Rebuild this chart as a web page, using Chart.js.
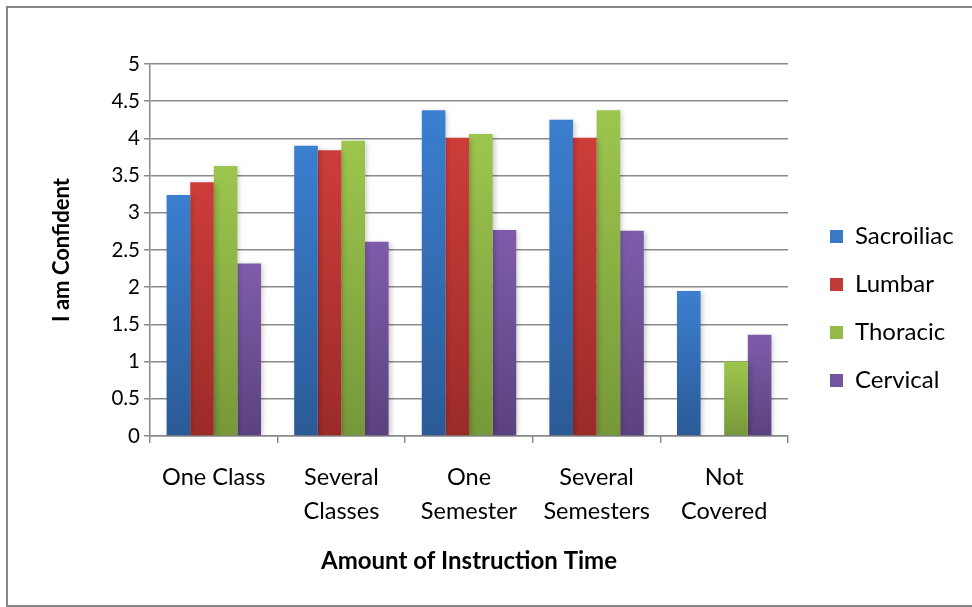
<!DOCTYPE html>
<html>
<head>
<meta charset="utf-8">
<script src="https://cdn.jsdelivr.net/npm/chart.js@4.4.1/dist/chart.umd.min.js"></script>
<style>
  html, body { margin: 0; padding: 0; background: #fff; }
  #wrap { width: 972px; height: 607px; }
</style>
</head>
<body>
<div id="wrap"><canvas id="chart" width="972" height="607"></canvas></div>
<script>
// Categories (amount of instruction time) and mean confidence per region
const categories = ['One Class', ['Several', 'Classes'], ['One', 'Semester'], ['Several', 'Semesters'], ['Not', 'Covered']];
const seriesNames = ['Sacroiliac', 'Lumbar', 'Thoracic', 'Cervical'];
const sacroiliac = [3.24, 3.90, 4.38, 4.25, 1.95];
const lumbar     = [3.41, 3.84, 4.01, 4.01, null];
const thoracic   = [3.63, 3.97, 4.06, 4.38, 1.00];
const cervical   = [2.32, 2.61, 2.77, 2.76, 1.36];
const yMin = 0, yMax = 5, yStep = 0.5;

const FONT = 'Lato, "Open Sans", sans-serif';
const GRID = '#8a8a8a';

// top / bottom shades of each bar's vertical gradient, plus the legend swatch
const palette = [
  { top: '#3b7fd0', bottom: '#2b5a96', key: '#3a78c4' },
  { top: '#cd3d3a', bottom: '#9b2b28', key: '#c23a37' },
  { top: '#9dc64d', bottom: '#76983a', key: '#93ba48' },
  { top: '#7f5cab', bottom: '#5c417f', key: '#7555a0' }
];

function barFill(shade) {
  return (ctx) => {
    const chart = ctx.chart;
    if (!chart.chartArea || ctx.type !== 'data') return shade.top;
    const v = ctx.raw;
    if (v == null) return shade.top;
    const ys = chart.scales.y;
    const y0 = ys.getPixelForValue(v);
    const y1 = ys.getPixelForValue(0);
    const g = chart.ctx.createLinearGradient(0, y0, 0, y1);
    g.addColorStop(0, shade.top);
    g.addColorStop(1, shade.bottom);
    return g;
  };
}

const values = [sacroiliac, lumbar, thoracic, cervical];
const datasets = seriesNames.map((name, i) => ({
  label: name,
  data: values[i],
  backgroundColor: barFill(palette[i]),
  borderWidth: 0,
  categoryPercentage: 0.74,
  barPercentage: 1.0
}));

// white page with the grey frame around the chart
const framePlugin = {
  id: 'frame',
  beforeDraw(chart) {
    const c = chart.ctx;
    c.save();
    c.fillStyle = '#fff';
    c.fillRect(0, 0, chart.width, chart.height);
    c.strokeStyle = '#878787';
    c.lineWidth = 2;
    c.strokeRect(7, 7, chart.width + 20, chart.height - 8);
    c.restore();
  }
};

// soft drop shadow behind the bars
const shadowPlugin = {
  id: 'barShadow',
  beforeDatasetsDraw(chart) {
    const c = chart.ctx;
    c.save();
    c.shadowColor = 'rgba(0,0,0,0.22)';
    c.shadowBlur = 5;
    c.shadowOffsetX = 2;
    c.shadowOffsetY = 1;
  },
  afterDatasetsDraw(chart) {
    chart.ctx.restore();
  }
};

// shift the legend column a little away from the plot
const legendOffset = {
  id: 'legendOffset',
  afterLayout(chart) {
    const lg = chart.legend;
    if (!lg) return;
    lg.left += 18;
    lg.right += 18;
  }
};

new Chart(document.getElementById('chart'), {
  type: 'bar',
  data: { labels: categories, datasets },
  plugins: [framePlugin, shadowPlugin, legendOffset],
  options: {
    responsive: false,
    animation: false,
    devicePixelRatio: 1,
    layout: { padding: { left: 40, top: 10, right: 0, bottom: 0 } },
    plugins: {
      tooltip: { enabled: false },
      legend: {
        position: 'right',
        align: 'center',
        labels: {
          boxWidth: 13,
          boxHeight: 13,
          padding: 24,
          color: '#000',
          font: { family: FONT, size: 24 },
          generateLabels(chart) {
            return chart.data.datasets.map((ds, i) => ({
              text: ds.label,
              fillStyle: palette[i].key,
              strokeStyle: palette[i].key,
              lineWidth: 0,
              hidden: false,
              datasetIndex: i
            }));
          }
        }
      }
    },
    scales: {
      x: {
        offset: true,
        grid: {
          display: true,
          offset: true,
          drawOnChartArea: false,
          drawTicks: true,
          tickLength: 7,
          color: GRID,
          lineWidth: 1.5
        },
        border: { display: true, color: GRID, width: 1.5 },
        ticks: {
          color: '#000',
          padding: 17,
          maxRotation: 0,
          autoSkip: false,
          font: { family: FONT, size: 23.5, lineHeight: 34 / 23.5 }
        },
        title: {
          display: true,
          text: 'Amount of Instruction Time',
          color: '#000',
          font: { family: FONT, size: 24, weight: 'bold', lineHeight: 1.2 },
          padding: { top: 0, bottom: 31 }
        },
        afterFit(scale) {
          scale.height = 171;
          scale.paddingRight = 184;
        }
      },
      y: {
        min: yMin,
        max: yMax,
        ticks: {
          stepSize: yStep,
          color: '#000',
          padding: 4,
          font: { family: FONT, size: 20.5 },
          callback: (v) => String(Math.round(v * 10) / 10)
        },
        grid: {
          color: GRID,
          lineWidth: 1.5,
          tickLength: 6,
          drawTicks: true
        },
        border: { display: true, color: GRID, width: 1.5 },
        title: {
          display: true,
          text: 'I am Confident',
          color: '#000',
          font: { family: FONT, size: 22, weight: 'bold', lineHeight: 1.2 },
          padding: { top: 9, bottom: 0 }
        },
        afterFit(scale) {
          scale.width = 110;
          scale.paddingTop = 64;
        }
      }
    }
  }
});
</script>
</body>
</html>
